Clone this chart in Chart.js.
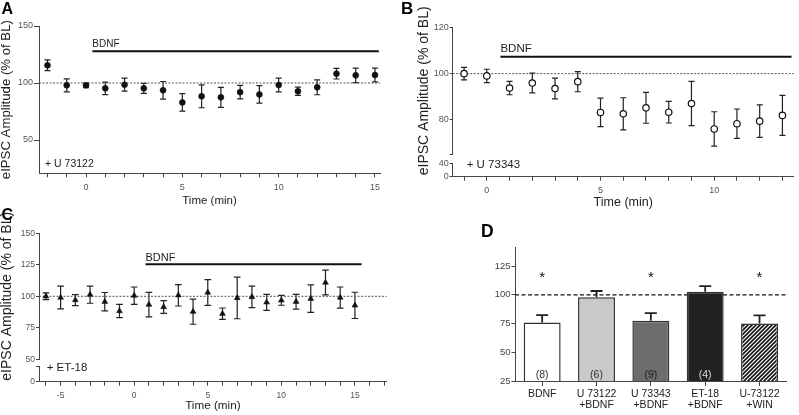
<!DOCTYPE html>
<html>
<head>
<meta charset="utf-8">
<script src="https://cdn.jsdelivr.net/npm/chart.js@4.4.1/dist/chart.umd.min.js"></script>
<style>
  body { margin: 0; background: #fff; width: 799px; height: 415px; overflow: hidden; position: relative; font-family: "Liberation Sans", Arial, Helvetica, sans-serif; }
  canvas { position: absolute; }
  .tag { position: absolute; font-weight: bold; line-height: 1; color: #000; }
</style>
</head>
<body>
<canvas id="chartA" width="400" height="210" style="left:0;top:0"></canvas>
<canvas id="chartB" width="399" height="210" style="left:400px;top:0"></canvas>
<canvas id="chartC" width="400" height="210" style="left:0;top:205px"></canvas>
<canvas id="chartD" width="399" height="210" style="left:400px;top:205px"></canvas>
<div class="tag" style="left:1.5px;top:1px;font-size:16px">A</div>
<div class="tag" style="left:401px;top:-0.5px;font-size:17px">B</div>
<div class="tag" style="left:1.5px;top:207px;font-size:16px">C</div>
<div class="tag" style="left:481px;top:223.4px;font-size:17.5px">D</div>
<script>
// A: + U 73122
const timeA = [-2, -1, 0, 1, 2, 3, 4, 5, 6, 7, 8, 9, 10, 11, 12, 13, 14, 15];
const ampA = [115.5, 98, 98, 95.3, 98.5, 95.3, 93.6, 83, 88.3, 87.4, 92, 90, 98.2, 92.7, 96.2, 108.2, 106.7, 107];
const semA = [4.7, 5.7, 2, 5.5, 5.7, 4.4, 7.7, 7.6, 10, 8.8, 6, 7.7, 6, 3.6, 6.5, 4.7, 6.3, 6];
const xTicksA = [-2, -1, 0, 1, 2, 3, 4, 5, 6, 7, 8, 9, 10, 11, 12, 13, 14, 15];
const yTicksA = [50, 100, 150];

// B: + U 73343
const timeB = [-1, 0, 1, 2, 3, 4, 5, 6, 7, 8, 9, 10, 11, 12, 13];
const ampB = [100, 99, 93.7, 95.9, 93.5, 96.5, 83.1, 82.5, 85.1, 83.2, 87, 75.9, 78.2, 79.3, 81.8];
const semB = [2.7, 2.9, 2.9, 4.3, 4.5, 4.4, 6.2, 7, 6.7, 4.7, 9.6, 7.5, 6.4, 7.1, 8.7];
const xTicksB = [-1, 0, 1, 2, 3, 4, 5, 6, 7, 8, 9, 10, 11, 12, 13];
const yTicksB = [65, 80, 100, 120];
const yTicksBLow = [0, 40];

// C: + ET-18
const timeC = [-6, -5, -4, -3, -2, -1, 0, 1, 2, 3, 4, 5, 6, 7, 8, 9, 10, 11, 12, 13, 14, 15];
const ampC = [100, 99, 97, 101.3, 95.7, 88.3, 100.5, 93.4, 91.5, 100.8, 87.8, 103, 86.2, 98.7, 99.5, 95.2, 96.8, 95.7, 98.1, 110.9, 99, 92.8];
const semC = [2.7, 9, 4.4, 6.8, 7.3, 5.3, 6.9, 9.7, 5, 8.5, 10, 10.2, 4.5, 16.5, 8.5, 6.4, 3.9, 5.9, 10.9, 9.8, 8.4, 10.4];
const xTicksC = [-6, -5, -4, -3, -2, -1, 0, 1, 2, 3, 4, 5, 6, 7, 8, 9, 10, 11, 12, 13, 14, 15, 16, 17];
const yTicksC = [50, 75, 100, 125, 150];
const yTicksCLow = [0, 12];

// D: summary
const groupsD = ['BDNF', ['U 73122', '+BDNF'], ['U 73343', '+BDNF'], ['ET-18', '+BDNF'], ['U-73122', '+WIN']];
const meanD = [76, 97.8, 77.5, 102.7, 75.1];
const semD = [6.4, 5.5, 6.6, 4.9, 7];
const nD = ['(8)', '(6)', '(9)', '(4)', ''];
const sigD = [true, false, true, false, true];
const yTicksD = [25, 50, 75, 100, 125];

// BDNF application bars [from, to, level]
const bdnfA = [0.33, 15.2, 127.8];
const bdnfB = [0.6, 13.4, 107.4];
const bdnfC = [0.77, 15.45, 125.5];

const yTitle = 'eIPSC Amplitude (% of BL)';
const AXIS = '#444';

Chart.defaults.font.family = '"Liberation Sans", Arial, Helvetica, sans-serif';
Chart.defaults.color = '#555';
Chart.defaults.animation = false;
Chart.defaults.responsive = false;
Chart.defaults.events = [];
Chart.defaults.plugins.legend.display = false;
Chart.defaults.plugins.tooltip.enabled = false;

// error bars drawn under the markers
const errorBars = {
    id: 'errorBars',
    beforeDatasetsDraw(chart, args, o) {
        const ctx = chart.ctx;
        chart.data.datasets.forEach((ds, di) => {
            if (!ds.errors) return;
            const meta = chart.getDatasetMeta(di);
            const ys = chart.scales[meta.yAxisID];
            ctx.save();
            ctx.strokeStyle = o.color;
            ctx.lineWidth = o.width;
            meta.data.forEach((el, i) => {
                const v = typeof ds.data[i] === 'object' ? ds.data[i].y : ds.data[i];
                const e = ds.errors[i];
                const top = ys.getPixelForValue(v + e);
                const bot = o.upOnly ? el.y : ys.getPixelForValue(v - e);
                ctx.beginPath();
                ctx.moveTo(el.x, top);
                ctx.lineTo(el.x, bot);
                ctx.moveTo(el.x - o.cap, top);
                ctx.lineTo(el.x + o.cap, top);
                if (!o.upOnly) {
                    ctx.moveTo(el.x - o.cap, bot);
                    ctx.lineTo(el.x + o.cap, bot);
                }
                ctx.stroke();
            });
            ctx.restore();
        });
    }
};

// baseline line, BDNF bar and drug note for the time courses
const timeDeco = {
    id: 'timeDeco',
    beforeDatasetsDraw(chart, args, o) {
        const ctx = chart.ctx;
        const ca = chart.chartArea;
        const xs = chart.scales.x;
        const ys = chart.scales.y;
        ctx.save();
        const yRef = ys.getPixelForValue(100);
        ctx.strokeStyle = '#555';
        ctx.lineWidth = 1;
        ctx.setLineDash([2, 1.5]);
        ctx.beginPath();
        ctx.moveTo(ca.left, yRef);
        ctx.lineTo(ca.right, yRef);
        ctx.stroke();
        ctx.setLineDash([]);

        const x0 = xs.getPixelForValue(o.bar[0]);
        const x1 = xs.getPixelForValue(o.bar[1]);
        const yb = ys.getPixelForValue(o.bar[2]);
        ctx.strokeStyle = '#111';
        ctx.lineWidth = 2;
        ctx.beginPath();
        ctx.moveTo(x0, yb);
        ctx.lineTo(x1, yb);
        ctx.stroke();

        ctx.fillStyle = '#222';
        ctx.textBaseline = 'alphabetic';
        ctx.textAlign = 'left';
        ctx.font = o.barSize + 'px "Liberation Sans", Arial, sans-serif';
        ctx.fillText('BDNF', x0, yb - o.barGap);
        ctx.font = o.noteSize + 'px "Liberation Sans", Arial, sans-serif';
        ctx.fillText(o.note, ca.left + o.noteDx, ca.bottom + o.noteDy);
        ctx.restore();
    }
};

// dashed 100% line, asterisks and n labels for the summary
const barDeco = {
    id: 'barDeco',
    beforeDatasetsDraw(chart) {
        const ctx = chart.ctx;
        const ca = chart.chartArea;
        const y = chart.scales.y.getPixelForValue(100);
        ctx.save();
        ctx.strokeStyle = '#111';
        ctx.lineWidth = 1.3;
        ctx.setLineDash([4, 2.5]);
        ctx.beginPath();
        ctx.moveTo(ca.left, y);
        ctx.lineTo(ca.right, y);
        ctx.stroke();
        ctx.restore();
    },
    afterDatasetsDraw(chart, args, o) {
        const ctx = chart.ctx;
        const ca = chart.chartArea;
        const meta = chart.getDatasetMeta(0);
        ctx.save();
        ctx.textAlign = 'center';
        meta.data.forEach((el, i) => {
            if (sigD[i]) {
                ctx.fillStyle = '#111';
                ctx.font = '15px "Liberation Sans", Arial, sans-serif';
                ctx.textBaseline = 'top';
                ctx.fillText('*', el.x, o.starY);
            }
            ctx.fillStyle = o.nColors[i];
            ctx.font = '10.5px "Liberation Sans", Arial, sans-serif';
            ctx.textBaseline = 'middle';
            ctx.fillText(nD[i], el.x, ca.bottom - o.nUp);
        });
        ctx.restore();
    }
};

function timeAxis(ticks, min, max, h, titleSize, titleBottom, pad, tickSize) {
    return {
        type: 'linear', min: min, max: max,
        afterBuildTicks: s => { s.ticks = ticks.map(v => ({ value: v })); },
        afterFit: s => { s.height = h; },
        grid: { drawOnChartArea: false, tickLength: 4, color: AXIS, lineWidth: 1 },
        border: { color: AXIS, width: 1 },
        ticks: { autoSkip: false, maxRotation: 0, padding: pad, font: { size: tickSize }, callback: v => (v % 5 === 0 ? String(v) : '') },
        title: { display: true, text: 'Time (min)', color: '#222', font: { size: titleSize, lineHeight: 1 }, padding: { top: 0, bottom: titleBottom } }
    };
}

function ampAxis(min, max, ticks, w, tickLen, tickSize, extra) {
    const ax = {
        type: 'linear', position: 'left', min: min, max: max,
        afterBuildTicks: s => { s.ticks = ticks.map(v => ({ value: v })); },
        afterFit: s => { s.width = w; },
        grid: { drawOnChartArea: false, tickLength: tickLen, color: AXIS, lineWidth: 1 },
        border: { color: AXIS, width: 1 },
        ticks: { autoSkip: false, padding: 1, font: { size: tickSize } }
    };
    return Object.assign(ax, extra || {});
}

function yTitleOpt(size, padTop) {
    return { display: true, text: yTitle, color: '#222', font: { size: size, lineHeight: 1 }, padding: { top: padTop, bottom: 0 } };
}

// Panel A
new Chart(document.getElementById('chartA'), {
    type: 'scatter',
    data: {
        datasets: [{
            data: timeA.map((t, i) => ({ x: t, y: ampA[i] })),
            errors: semA,
            pointStyle: 'circle', pointRadius: 3,
            backgroundColor: '#111', borderColor: '#111', borderWidth: 0.5
        }]
    },
    options: {
        layout: { padding: { top: 26, right: 20, bottom: 0, left: 0 } },
        scales: {
            x: timeAxis(xTicksA, -2.44, 15.26, 36.7, 11.5, 3, 5, 9),
            y: ampAxis(20.8, 150, yTicksA, 39, 5, 9, { title: yTitleOpt(13.2, 0) })
        },
        plugins: {
            errorBars: { color: '#222', width: 1.2, cap: 3 },
            timeDeco: { bar: bdnfA, barSize: 10, barGap: 4.2, note: '+ U 73122', noteSize: 10.5, noteDx: 6, noteDy: -6.6 }
        }
    },
    plugins: [errorBars, timeDeco]
});

// Panel B (broken y axis: lower 0-40 piece stacked under the main one)
new Chart(document.getElementById('chartB'), {
    type: 'scatter',
    data: {
        datasets: [{
            data: timeB.map((t, i) => ({ x: t, y: ampB[i] })),
            errors: semB,
            yAxisID: 'y',
            pointStyle: 'circle', pointRadius: 3.2,
            backgroundColor: '#fff', borderColor: '#111', borderWidth: 1.2
        }]
    },
    options: {
        layout: { padding: { top: 27.7, right: 0, bottom: 0, left: 16 } },
        scales: {
            x: timeAxis(xTicksB, -1.5, 13.5, 33.3, 12.5, 1.6, 4.5, 9),
            yLow: ampAxis(0, 40, yTicksBLow, 36.7, 3, 9, { stack: 'left', stackWeight: 13.4 }),
            yGap: {
                type: 'linear', position: 'left', stack: 'left', stackWeight: 9.3,
                afterFit: s => { s.width = 36.7; },
                grid: { display: false }, border: { display: false }, ticks: { display: false }
            },
            y: ampAxis(65, 120, yTicksB, 36.7, 3, 9, {
                stack: 'left', stackWeight: 126.3,
                title: yTitleOpt(14, 1),
                ticks: { autoSkip: false, padding: 1, font: { size: 9 }, callback: v => (v === 65 ? '' : String(v)) }
            })
        },
        plugins: {
            errorBars: { color: '#222', width: 1.2, cap: 3 },
            timeDeco: { bar: bdnfB, barSize: 11.5, barGap: 4.6, note: '+ U 73343', noteSize: 11.5, noteDx: 14, noteDy: -9 }
        }
    },
    plugins: [errorBars, timeDeco]
});

// Panel C (broken y axis)
new Chart(document.getElementById('chartC'), {
    type: 'scatter',
    data: {
        datasets: [{
            data: timeC.map((t, i) => ({ x: t, y: ampC[i] })),
            errors: semC,
            yAxisID: 'y',
            pointStyle: 'triangle', pointRadius: 3.4,
            backgroundColor: '#111', borderColor: '#111', borderWidth: 0.5
        }]
    },
    options: {
        layout: { padding: { top: 28.3, right: 13.3, bottom: 0, left: 0 } },
        scales: {
            x: timeAxis(xTicksC, -6.47, 17.16, 33.3, 11.7, 3.3, 4.5, 8.5),
            yLow: ampAxis(0, 12, yTicksCLow, 39, 3, 8.5, {
                stack: 'left', stackWeight: 15,
                ticks: { autoSkip: false, padding: 1, font: { size: 8.5 }, callback: v => (v === 0 ? '0' : '') }
            }),
            yGap: {
                type: 'linear', position: 'left', stack: 'left', stackWeight: 7.4,
                afterFit: s => { s.width = 39; },
                grid: { display: false }, border: { display: false }, ticks: { display: false }
            },
            y: ampAxis(50, 150, yTicksC, 39, 3, 8.5, {
                stack: 'left', stackWeight: 126,
                title: yTitleOpt(14, 0)
            })
        },
        plugins: {
            errorBars: { color: '#222', width: 1.2, cap: 3.3 },
            timeDeco: { bar: bdnfC, barSize: 11, barGap: 3.5, note: '+ ET-18', noteSize: 11.5, noteDx: 7.7, noteDy: -11 }
        }
    },
    plugins: [errorBars, timeDeco]
});

// Panel D
function hatch() {
    const c = document.createElement('canvas');
    c.width = 4; c.height = 4;
    const g = c.getContext('2d');
    g.fillStyle = '#fff';
    g.fillRect(0, 0, 4, 4);
    g.strokeStyle = '#111';
    g.lineWidth = 1.6;
    g.beginPath();
    g.moveTo(0, 4); g.lineTo(4, 0);
    g.moveTo(-1, 1); g.lineTo(1, -1);
    g.moveTo(3, 5); g.lineTo(5, 3);
    g.stroke();
    return g.createPattern(c, 'repeat');
}

new Chart(document.getElementById('chartD'), {
    type: 'bar',
    data: {
        labels: groupsD,
        datasets: [{
            data: meanD,
            errors: semD,
            backgroundColor: ['#ffffff', '#c9c9c9', '#6d6d6d', '#222222', hatch()],
            borderColor: '#333',
            borderWidth: 1.5,
            borderSkipped: false,
            barPercentage: 0.68,
            categoryPercentage: 1
        }]
    },
    options: {
        layout: { padding: { top: 42.7, right: 12.3, bottom: 0, left: 0 } },
        scales: {
            x: {
                afterFit: s => { s.height = 34; },
                grid: { drawOnChartArea: false, offset: false, tickLength: 5, color: AXIS },
                border: { color: AXIS, width: 1 },
                ticks: { color: '#222', autoSkip: false, maxRotation: 0, padding: 3, font: { size: 10.5, lineHeight: 1 } }
            },
            y: ampAxis(25, 141, yTicksD, 115, 3.5, 9.5, {
                ticks: { autoSkip: false, padding: 1, color: '#444', font: { size: 9.5 } }
            })
        },
        plugins: {
            errorBars: { color: '#222', width: 1.8, cap: 6, upOnly: true },
            barDeco: { starY: 65.5, nUp: 6, nColors: ['#333', '#333', '#1a1a1a', '#ddd', '#333'] }
        }
    },
    plugins: [errorBars, barDeco]
});
</script>
</body>
</html>
